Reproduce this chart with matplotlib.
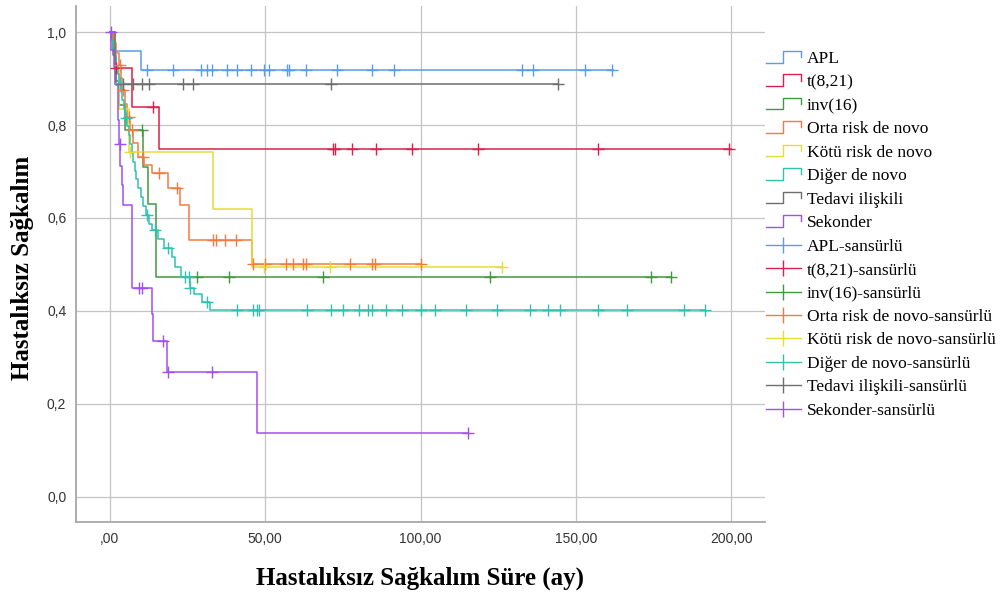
import numpy as np
import matplotlib
matplotlib.use("Agg")
import matplotlib.pyplot as plt
from matplotlib.lines import Line2D
from matplotlib.legend_handler import HandlerBase
from matplotlib.ticker import FuncFormatter

# group names, colours
groups = ["APL", "t(8,21)", "inv(16)", "Orta risk de novo", "Kötü risk de novo",
          "Diğer de novo", "Tedavi ilişkili", "Sekonder"]
colors = ["#5b9be8", "#dc1f4c", "#3f9a3f", "#f57a40", "#e6dc36",
          "#2fc2ae", "#6e6e6e", "#a24ff0"]

# step times (months) and survival after each step, last follow-up, censored times
apl_t = [0, 1.0, 10.0]
apl_s = [1.0, 0.96, 0.918]
apl_end = 162.0
apl_c = [12.1, 20.2, 29.2, 31.3, 33.0, 37.8, 40.8, 45.3, 49.7, 51.3, 57.1, 57.7,
         63.1, 73.2, 84.2, 91.5, 132.5, 136.2, 152.9, 161.7]

t821_t = [0, 1.5, 7.0, 15.9]
t821_s = [1.0, 0.923, 0.839, 0.748]
t821_end = 200.0
t821_c = [2.0, 13.9, 71.9, 72.5, 78.0, 85.6, 97.1, 118.3, 157.2, 199.2]

inv16_t = [0, 1.0, 2.0, 3.0, 4.8, 10.5, 12.3, 14.8]
inv16_s = [1.0, 0.95, 0.895, 0.842, 0.789, 0.71, 0.63, 0.474]
inv16_end = 180.6
inv16_c = [10.2, 27.9, 38.2, 68.5, 122.3, 174.1, 180.6]

orta_t = [0, 1.0, 2.0, 3.0, 3.5, 4.0, 5.0, 5.5, 6.5, 7.5, 9.0, 11.0, 13.5,
          18.8, 22.5, 25.5, 45.6]
orta_s = [1.0, 0.977, 0.954, 0.929, 0.902, 0.875, 0.846, 0.818, 0.790, 0.762,
          0.732, 0.714, 0.696, 0.664, 0.628, 0.553, 0.501]
orta_end = 100.0
orta_c = [3.2, 4.3, 6.2, 7.0, 10.5, 15.9, 21.5, 33.3, 34.3, 37.0, 40.6, 46.0,
          49.9, 56.6, 59.0, 62.2, 63.1, 77.2, 84.4, 85.2, 100.0]

kotu_t = [0, 1.5, 3.0, 6.0, 33.3, 45.8]
kotu_s = [1.0, 0.917, 0.834, 0.743, 0.619, 0.495]
kotu_end = 126.2
kotu_c = [6.6, 49.7, 70.8, 126.2]

diger_t = [0, 0.5, 1.0, 1.5, 2.0, 2.5, 3.0, 3.5, 4.0, 4.5, 5.0, 5.5, 6.0, 6.5,
           7.0, 7.5, 8.0, 8.5, 9.0, 10.0, 10.8, 11.5, 12.5, 13.5, 15.5, 17.5,
           20.0, 21.0, 23.0, 25.7, 27.0, 29.5, 32.2]
diger_s = [1.0, 0.982, 0.964, 0.946, 0.928, 0.910, 0.890, 0.872, 0.854, 0.835,
           0.816, 0.797, 0.778, 0.759, 0.740, 0.721, 0.702, 0.683, 0.664, 0.645,
           0.626, 0.607, 0.588, 0.574, 0.555, 0.535, 0.515, 0.495, 0.474, 0.449,
           0.436, 0.420, 0.403]
diger_end = 191.5
diger_c = [3.2, 5.2, 11.8, 14.5, 18.8, 24.1, 25.5, 25.8, 31.1, 40.8, 45.9, 47.2,
           48.1, 63.5, 71.3, 74.9, 80.2, 83.1, 84.5, 88.8, 93.9, 100.1, 104.6,
           114.6, 124.6, 135.2, 141.0, 144.8, 157.0, 166.4, 184.7, 191.5]

tedavi_t = [0, 1.5]
tedavi_s = [1.0, 0.889]
tedavi_end = 144.3
tedavi_c = [4.1, 7.5, 10.2, 12.6, 23.6, 26.8, 71.0, 144.3]

sek_t = [0, 0.5, 1.2, 2.0, 2.6, 3.0, 3.4, 3.9, 4.3, 7.2, 13.4, 13.8, 18.4, 47.2]
sek_s = [1.0, 0.962, 0.925, 0.886, 0.810, 0.759, 0.712, 0.671, 0.628, 0.449,
         0.393, 0.336, 0.269, 0.137]
sek_end = 115.3
sek_c = [0.3, 3.2, 9.4, 10.2, 17.2, 18.8, 32.7, 115.3]

curves = [(apl_t, apl_s, apl_end, apl_c), (t821_t, t821_s, t821_end, t821_c),
          (inv16_t, inv16_s, inv16_end, inv16_c), (orta_t, orta_s, orta_end, orta_c),
          (kotu_t, kotu_s, kotu_end, kotu_c), (diger_t, diger_s, diger_end, diger_c),
          (tedavi_t, tedavi_s, tedavi_end, tedavi_c), (sek_t, sek_s, sek_end, sek_c)]

x_ticks = [0, 50, 100, 150, 200]
y_ticks = [0.0, 0.2, 0.4, 0.6, 0.8, 1.0]


class StepHandler(HandlerBase):
    # little "_|‾|" glyph used by the SPSS legend
    def create_artists(self, legend, orig_handle, xdescent, ydescent, width,
                       height, fontsize, trans):
        x0, y0 = -xdescent, -ydescent
        xs = [x0, x0 + 0.5 * width, x0 + 0.5 * width, x0 + width, x0 + width]
        ys = [y0 + 0.05 * height, y0 + 0.05 * height, y0 + height, y0 + height,
              y0 + 0.5 * height]
        ln = Line2D(xs, ys, color=orig_handle.get_color(), lw=1.0)
        ln.set_transform(trans)
        return [ln]


fig = plt.figure(figsize=(10.07, 5.96), dpi=100)
ax = fig.add_axes([76 / 1007, 74 / 596, 689 / 1007, 516 / 596])

step_handles = []
cens_handles = []
for (t, s, end, cens), col in zip(curves, colors):
    t = np.asarray(t)
    s = np.asarray(s)
    h, = ax.step(np.append(t, end), np.append(s, s[-1]), where="post",
                 color=col, lw=1.1, zorder=3)
    c = np.asarray(cens)
    cy = s[np.searchsorted(t, c, side="right") - 1]
    ax.plot(c, cy, "+", color=col, ms=8, mew=1.0, zorder=4)
    step_handles.append(h)
    cens_handles.append(Line2D([], [], color=col, lw=1.0, marker="|", ms=11, mew=1.0))

ax.set_xlim(-10.9, 210.8)
ax.set_ylim(-0.054, 1.056)
ax.set_xticks(x_ticks)
ax.set_yticks(y_ticks)


def xfmt(v, pos):
    txt = "{:.2f}".format(v).replace(".", ",")
    return txt[1:] if txt.startswith("0,") else txt


ax.xaxis.set_major_formatter(FuncFormatter(xfmt))
ax.yaxis.set_major_formatter(FuncFormatter(lambda v, p: "{:.1f}".format(v).replace(".", ",")))
ax.tick_params(length=0, labelsize=10, labelcolor="#333333", pad=7)
for lab in ax.get_xticklabels() + ax.get_yticklabels():
    lab.set_family("Liberation Sans")

ax.grid(True, color="#c4c4c4", lw=0.9, zorder=0)
ax.set_axisbelow(True)
for side in ["top", "right"]:
    ax.spines[side].set_visible(False)
for side in ["left", "bottom"]:
    ax.spines[side].set_color("#a8a8a8")
    ax.spines[side].set_linewidth(1.3)

fig.text(420 / 1007, 1 - 578 / 596, "Hastalıksız Sağkalım Süre (ay)", ha="center",
         va="center", family="Liberation Serif", weight="bold", fontsize=18)
fig.text(23 / 1007, 1 - 268 / 596, "Hastalıksız Sağkalım", ha="center", va="center",
         rotation=90, family="Liberation Serif", weight="bold", fontsize=18)

labels = groups + [g + "-sansürlü" for g in groups]
hmap = {h: StepHandler() for h in step_handles}
fig.legend(step_handles + cens_handles, labels, handler_map=hmap,
           loc="upper left", bbox_to_anchor=(766 / 1007, 1 - 51 / 596),
           frameon=False, borderpad=0, borderaxespad=0, handlelength=2.0,
           handletextpad=0.35, labelspacing=0.42,
           prop={"family": "Liberation Serif", "size": 12.5})

fig.savefig("out.png", dpi=100)
